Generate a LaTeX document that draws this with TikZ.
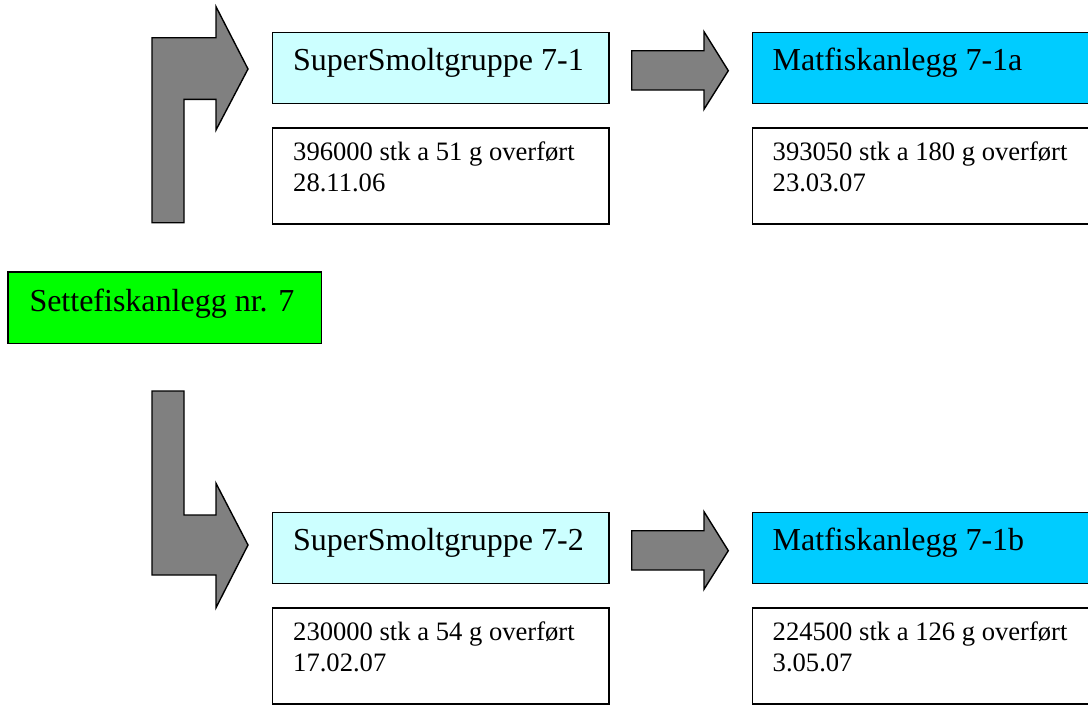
\documentclass[tikz,border=0pt]{standalone}
\usepackage{fontspec}
\setmainfont{Liberation Serif}
\definecolor{smolt}{HTML}{CCFFFF}
\definecolor{matfisk}{HTML}{00CCFF}
\definecolor{sette}{HTML}{00FF00}
\definecolor{arrowgray}{HTML}{808080}
\tikzset{
  boxshape/.style={draw=black, line width=1.6pt, rectangle, inner sep=0pt, anchor=north west},
  titletext/.style={anchor=base west, inner sep=0pt, font=\fontsize{32}{38}\selectfont},
  infotext/.style={anchor=base west, inner sep=0pt, align=left, font=\fontsize{26.6}{31}\selectfont},
  blockarrow/.style={draw=black, fill=arrowgray, line width=1.4pt, line join=miter}
}
\begin{document}
\begin{tikzpicture}[x=1pt,y=-1pt]
\useasboundingbox (0,0) rectangle (1088,713);
% boxes
\node[boxshape, fill=sette, minimum width=313.4pt, minimum height=71.7pt] (sette) at (7.3,271) {};
\node[boxshape, fill=smolt, minimum width=336.6pt, minimum height=71pt] (ss1) at (271.7,31.7) {};
\node[boxshape, fill=white, minimum width=336.6pt, minimum height=96pt] (ss1i) at (271.7,127.3) {};
\node[boxshape, fill=matfisk, minimum width=340pt, minimum height=71pt] (mf1) at (751.7,31.7) {};
\node[boxshape, fill=white, minimum width=340pt, minimum height=96pt] (mf1i) at (751.7,127.3) {};
\node[boxshape, fill=smolt, minimum width=336.6pt, minimum height=71pt] (ss2) at (271.7,511.7) {};
\node[boxshape, fill=white, minimum width=336.6pt, minimum height=96pt] (ss2i) at (271.7,607.3) {};
\node[boxshape, fill=matfisk, minimum width=340pt, minimum height=71pt] (mf2) at (751.7,511.7) {};
\node[boxshape, fill=white, minimum width=340pt, minimum height=96pt] (mf2i) at (751.7,607.3) {};
% texts
\node[titletext] (settet) at (29.3,311) {Settefiskanlegg nr. 7};
\node[titletext] (ss1t) at (293,70.5) {SuperSmoltgruppe 7-1};
\node[titletext] (mf1t) at (772.5,70.5) {Matfiskanlegg 7-1a};
\node[titletext] (ss2t) at (293,550.5) {SuperSmoltgruppe 7-2};
\node[titletext] (mf2t) at (772.5,550.5) {Matfiskanlegg 7-1b};
\node[infotext] (ss1it) at (293,191.2) {396000 stk a 51 g overført\\28.11.06};
\node[infotext] (mf1it) at (772.5,191.2) {393050 stk a 180 g overført\\23.03.07};
\node[infotext] (ss2it) at (293,671.2) {230000 stk a 54 g overført\\17.02.07};
\node[infotext] (mf2it) at (772.5,671.2) {224500 stk a 126 g overført\\3.05.07};
% bent arrows
\draw[blockarrow] (152,222.7) -- (152,37.7) -- (216,37.7) -- (216,6.7) -- (248,69) -- (216,130) -- (216,99.3) -- (184,99.3) -- (184,222.7) -- cycle;
\draw[blockarrow] (152,391) -- (184,391) -- (184,515) -- (216,515) -- (216,483.3) -- (248,545) -- (216,607.7) -- (216,575) -- (152,575) -- cycle;
% straight arrows
\draw[blockarrow] (631.7,50.7) -- (704,50.7) -- (704,31.7) -- (728.3,70.7) -- (704,109.3) -- (704,90) -- (631.7,90) -- cycle;
\draw[blockarrow] (631.7,530.7) -- (704,530.7) -- (704,511.7) -- (728.3,550.7) -- (704,589.3) -- (704,570) -- (631.7,570) -- cycle;
\end{tikzpicture}
\end{document}
